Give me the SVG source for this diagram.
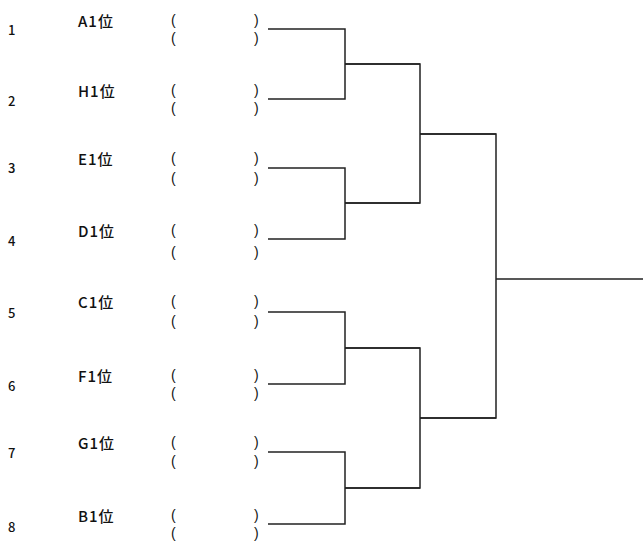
<svg xmlns="http://www.w3.org/2000/svg" width="643" height="547" viewBox="0 0 643 547">
<style>
text{font-family:"Noto Sans CJK JP","Liberation Sans",sans-serif;fill:#111;dominant-baseline:central}
.n{font-size:13px;font-weight:500}
.l{font-size:15px;letter-spacing:1px;font-weight:500}
.p{font-family:"Liberation Sans","Noto Sans CJK JP",sans-serif;font-size:14px}
.c{fill:none;stroke:#222;stroke-width:1.5}
</style>
<rect width="643" height="547" fill="#fff"/>
<g id="entry1"><text class="n" x="8" y="29">1</text><text class="l" x="78" y="20">A1位</text><text class="p" x="171" y="20">(</text><text class="p" x="254" y="20">)</text><text class="p" x="171" y="38">(</text><text class="p" x="254" y="38">)</text></g>
<g id="entry2"><text class="n" x="8" y="100">2</text><text class="l" x="78" y="90">H1位</text><text class="p" x="171" y="90">(</text><text class="p" x="254" y="90">)</text><text class="p" x="171" y="108">(</text><text class="p" x="254" y="108">)</text></g>
<g id="entry3"><text class="n" x="8" y="167">3</text><text class="l" x="78" y="158">E1位</text><text class="p" x="171" y="158">(</text><text class="p" x="254" y="158">)</text><text class="p" x="171" y="178">(</text><text class="p" x="254" y="178">)</text></g>
<g id="entry4"><text class="n" x="8" y="240">4</text><text class="l" x="78" y="230">D1位</text><text class="p" x="171" y="230">(</text><text class="p" x="254" y="230">)</text><text class="p" x="171" y="252">(</text><text class="p" x="254" y="252">)</text></g>
<g id="entry5"><text class="n" x="8" y="312">5</text><text class="l" x="78" y="301">C1位</text><text class="p" x="171" y="301">(</text><text class="p" x="254" y="301">)</text><text class="p" x="171" y="321">(</text><text class="p" x="254" y="321">)</text></g>
<g id="entry6"><text class="n" x="8" y="385">6</text><text class="l" x="78" y="375">F1位</text><text class="p" x="171" y="375">(</text><text class="p" x="254" y="375">)</text><text class="p" x="171" y="393">(</text><text class="p" x="254" y="393">)</text></g>
<g id="entry7"><text class="n" x="8" y="452">7</text><text class="l" x="78" y="442">G1位</text><text class="p" x="171" y="442">(</text><text class="p" x="254" y="442">)</text><text class="p" x="171" y="461">(</text><text class="p" x="254" y="461">)</text></g>
<g id="entry8"><text class="n" x="8" y="526">8</text><text class="l" x="78" y="515">B1位</text><text class="p" x="171" y="515">(</text><text class="p" x="254" y="515">)</text><text class="p" x="171" y="533">(</text><text class="p" x="254" y="533">)</text></g>
<g id="connectors" class="c">
<path class="c" d="M268 29H345V99H268M345 64H420"/>
<path class="c" d="M268 168H345V239H268M345 203H420"/>
<path class="c" d="M268 312H345V384H268M345 348H420"/>
<path class="c" d="M268 452H345V524H268M345 488H420"/>
<path class="c" d="M345 64H420V203H345M420 134H496"/>
<path class="c" d="M345 348H420V488H345M420 418H496"/>
<path class="c" d="M420 134H496V418H420M496 279H643"/>
</g>
</svg>
